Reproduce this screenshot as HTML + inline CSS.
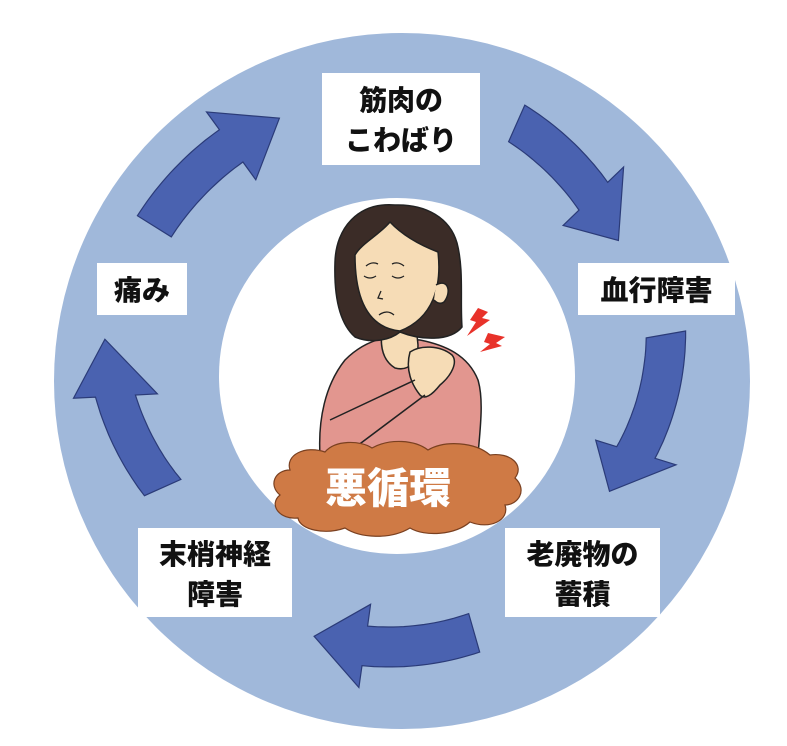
<!DOCTYPE html>
<html><head><meta charset="utf-8">
<style>
html,body{margin:0;padding:0;background:#fff;}
body{width:787px;height:746px;position:relative;overflow:hidden;font-family:"Liberation Sans","Noto Sans CJK JP",sans-serif;}
svg{position:absolute;left:0;top:0;}
.lb{position:absolute;background:#fff;font-weight:900;font-size:28px;color:#111;text-align:center;line-height:40px;display:flex;align-items:center;justify-content:center;font-family:"Noto Sans CJK JP",sans-serif;}
</style></head><body>
<svg width="787" height="746" viewBox="0 0 787 746">
<circle cx="402" cy="381" r="348" fill="#a0b8da"/>
<circle cx="397" cy="376" r="178" fill="#fff"/>
<g id="arrows" fill="#4a62b0" stroke="#2b3b78" stroke-width="1.2"></g>
<g stroke="#222" stroke-width="1.5" stroke-linejoin="round">
<path d="M320,455 C318,420 325,385 345,360 C360,345 375,340 385,338 L420,340 C445,345 468,355 478,380 C484,400 480,430 478,455 Z" fill="#e2968f"/>
<path d="M382,330 C380,345 382,360 395,368 C410,372 418,360 418,345 L416,325 Z" fill="#f6dcb6"/>
<path d="M395,205 C358,202 336,228 335,262 C334,292 338,322 355,337 C372,344 390,340 400,332 C420,340 450,342 462,327 C460,300 464,270 457,243 C450,218 426,204 395,205 Z" fill="#3b2c27"/>
<path d="M355,255 C362,243 378,236 390,222 C405,238 425,247 438,252 C442,287 433,318 400,331 C372,328 355,305 355,255 Z" fill="#f6dcb6"/>
<path d="M436,285 C448,278 452,292 444,302 C440,305 436,302 434,300" fill="#f6dcb6"/>
<path d="M410,352 C420,345 440,345 452,355 C458,362 452,375 440,385 C432,395 425,400 420,395 C412,385 405,370 410,352 Z" fill="#f6dcb6"/>
<path d="M330,420 L415,380 M345,455 L425,395" fill="none"/>
</g>
<g stroke="#222" stroke-width="1.3" fill="none">
<path d="M364,276 q6,4 12,0 M392,276 q6,4 12,0 M366,266 q6,-5 12,-2 M392,264 q6,-3 12,2 M381,291 l-3,7 l5,1 M379,315 q8,-6 15,0"/>
</g>
<path d="M478,308 L488,312 L482,318 L490,320 L467,336 L476,322 L470,320 Z" fill="#e8322a"/>
<path d="M488,333 L505,337 L496,343 L502,346 L480,352 L490,344 L484,342 Z" fill="#e8322a"/>
<path d="M290,470 C285,455 305,445 325,452 C335,440 360,440 372,448 C390,438 415,440 428,450 C445,440 475,442 490,455 C510,452 525,465 515,478 C528,490 518,505 505,505 C510,520 490,530 470,522 C455,535 425,537 410,528 C390,540 360,538 345,528 C325,535 300,530 298,518 C280,520 268,505 280,495 C268,485 275,470 290,470 Z" fill="#cf7a45" stroke="#7a4020" stroke-width="1.2"/>
<text x="388" y="503" text-anchor="middle" font-family="Noto Sans CJK JP,sans-serif" font-weight="900" font-size="42" fill="#fff">悪循環</text>
</svg>
<div class="lb" style="left:322px;top:73px;width:158px;height:92px;">筋肉の<br>こわばり</div>
<div class="lb" style="left:578px;top:263px;width:157px;height:52px;">血行障害</div>
<div class="lb" style="left:97px;top:263px;width:90px;height:52px;">痛み</div>
<div class="lb" style="left:138px;top:528px;width:154px;height:89px;">末梢神経<br>障害</div>
<div class="lb" style="left:505px;top:528px;width:155px;height:89px;">老廃物の<br>蓄積</div>
<script>
(function(){
var cx=402,cy=381,hw=20,hh=42;
function pt(a,r){var t=a*Math.PI/180;return [cx+r*Math.sin(t),cy-r*Math.cos(t)];}
function arrow(a0,a1,r0,r1){
 var dir=a1>a0?1:-1,hl=11*dir,ab=a1-hl,p=[],i,n=20;
 function R(a){return r0+(r1-r0)*(a-a0)/(a1-a0);}
 for(i=0;i<=n;i++){var a=a0+(ab-a0)*i/n;p.push(pt(a,R(a)+hw));}
 p.push(pt(ab,R(ab)+hh));p.push(pt(a1,R(a1)));p.push(pt(ab,R(ab)-hh));
 for(i=n;i>=0;i--){var a=a0+(ab-a0)*i/n;p.push(pt(a,R(a)-hw));}
 return '<path d="M'+p.map(function(q){return q[0].toFixed(1)+','+q[1].toFixed(1)}).join(' L')+' Z"/>';
}
var s=arrow(24,57,282,258)+arrow(80,118,268,235)+arrow(164,199,262,270)+arrow(246,278,262,300)+arrow(302,335,292,290);
document.getElementById('arrows').innerHTML=s;
})();
</script>
</body></html>
